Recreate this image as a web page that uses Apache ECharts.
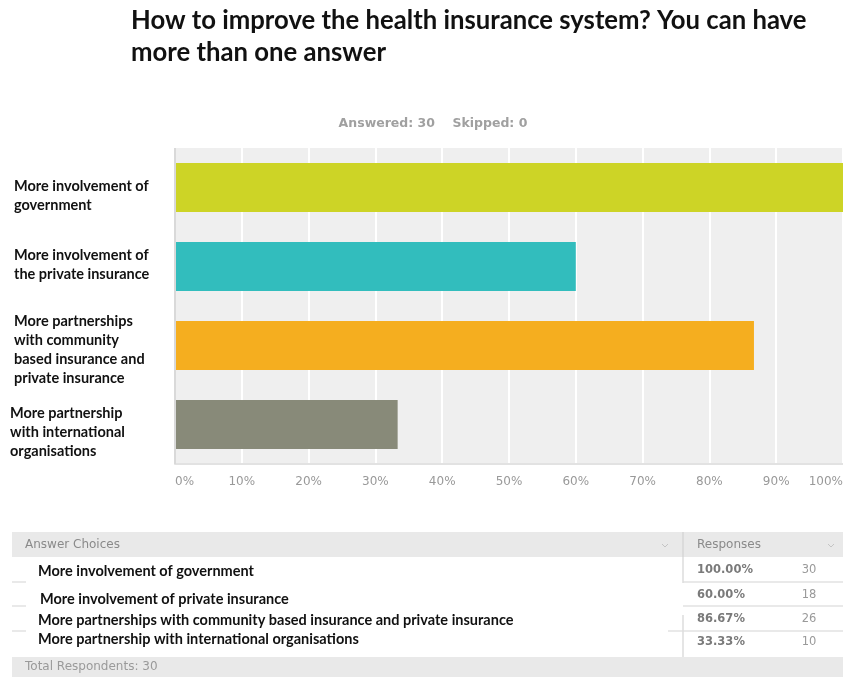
<!DOCTYPE html>
<html>
<head>
<meta charset="utf-8">
<script src="https://cdn.jsdelivr.net/npm/echarts@6/dist/echarts.min.js"></script>
<style>
  html, body { margin: 0; padding: 0; background: #fff; }
  #chart { width: 843px; height: 677px; }
</style>
</head>
<body>
<div id="chart"></div>
<script>
// Survey question and answer options
const questionTitle = 'How to improve the health insurance system? You can have\nmore than one answer';
const answeredCount = 30;
const skippedCount = 0;

const axisCategories = [
  'More involvement of\ngovernment',
  'More involvement of\nthe private insurance',
  'More partnerships\nwith community\nbased insurance and\nprivate insurance',
  'More partnership\nwith international\norganisations'
];
const tableChoices = [
  'More involvement of government',
  'More involvement of private insurance',
  'More partnerships with community based insurance and private insurance',
  'More partnership with international organisations'
];
const responsePercent = [100.00, 60.00, 86.67, 33.33];
const responseCount = [30, 18, 26, 10];
const barColors = ['#cdd426', '#32bdbd', '#f5ae1f', '#888a79'];

// per-category label nudges (vertical shift in px, indented or not)
const labelShiftY = [8, -2, 4, 8];
const labelIndented = [true, true, true, false];

const chart = echarts.init(document.getElementById('chart'), null, { renderer: 'canvas' });

// ---- summary table drawn under the bar chart ----
const tbl = { left: 12, right: 843, divider: 683, headTop: 532, headBottom: 557, footTop: 657, footBottom: 677 };
const rowCenters = [570, 595, 619, 642];
const choiceCenters = [571, 599, 620, 639];
const rowTextX = [38, 40, 38, 38];
const rowLines = [582, 606, 631];
const greyText = '#8a8a8a';
const uiFont = '"DejaVu Sans", Verdana, sans-serif';
const labelFont = 'Lato, "Open Sans", sans-serif';

const graphics = [];
// header band
graphics.push({ type: 'rect', shape: { x: tbl.left, y: tbl.headTop, width: tbl.right - tbl.left, height: tbl.headBottom - tbl.headTop }, style: { fill: '#e9e9e9' } });
graphics.push({ type: 'line', shape: { x1: tbl.divider, y1: tbl.headTop, x2: tbl.divider, y2: tbl.headBottom }, style: { stroke: '#d6d6d6', lineWidth: 1.5 } });
graphics.push({ type: 'text', x: 25, y: 545, style: { text: 'Answer Choices', fill: greyText, font: '12px ' + uiFont, verticalAlign: 'middle' } });
graphics.push({ type: 'text', x: 697, y: 545, style: { text: 'Responses', fill: greyText, font: '12px ' + uiFont, verticalAlign: 'middle' } });
[665, 831].forEach(function (ax) {
  graphics.push({ type: 'polyline', shape: { points: [[ax - 3, 544], [ax, 547], [ax + 3, 544]] }, style: { stroke: '#c4c4c4', lineWidth: 1, fill: null } });
});
// footer band
graphics.push({ type: 'rect', shape: { x: tbl.left, y: tbl.footTop, width: tbl.right - tbl.left, height: tbl.footBottom - tbl.footTop }, style: { fill: '#e9e9e9' } });
graphics.push({ type: 'text', x: 25, y: 667, style: { text: 'Total Respondents: ' + answeredCount, fill: '#9a9a9a', font: '12px ' + uiFont, verticalAlign: 'middle' } });
// row separators
rowLines.forEach(function (ly, i) {
  graphics.push({ type: 'line', shape: { x1: tbl.left, y1: ly, x2: 26, y2: ly }, style: { stroke: '#e2e2e2', lineWidth: 1.5 } });
  const startX = i === 2 ? 668 : tbl.divider;
  graphics.push({ type: 'line', shape: { x1: startX, y1: ly, x2: tbl.right, y2: ly }, style: { stroke: '#e2e2e2', lineWidth: 1.5 } });
});
graphics.push({ type: 'line', shape: { x1: tbl.divider, y1: tbl.headBottom, x2: tbl.divider, y2: 583 }, style: { stroke: '#dcdcdc', lineWidth: 1.5 } });
graphics.push({ type: 'line', shape: { x1: tbl.divider, y1: 615, x2: tbl.divider, y2: tbl.footTop }, style: { stroke: '#dcdcdc', lineWidth: 1.5 } });
// row contents
tableChoices.forEach(function (name, i) {
  graphics.push({ type: 'text', x: rowTextX[i], y: choiceCenters[i], style: { text: name, fill: '#111', font: 'bold 14.5px ' + labelFont, verticalAlign: 'middle' } });
  graphics.push({ type: 'text', x: 697, y: rowCenters[i], style: { text: responsePercent[i].toFixed(2) + '%', fill: '#7a7a7a', font: 'bold 11.5px ' + uiFont, verticalAlign: 'middle' } });
  graphics.push({ type: 'text', x: 809, y: rowCenters[i], style: { text: String(responseCount[i]), fill: '#9a9a9a', font: '11.5px ' + uiFont, verticalAlign: 'middle', align: 'center' } });
});
// left shadow edge of the plot area
graphics.push({ type: 'line', shape: { x1: 175, y1: 148, x2: 175, y2: 464 }, style: { stroke: '#d9d9d9', lineWidth: 2 }, z: 10 });

// rich-text styles for the category labels; spacer lines move a label up or down
const labelRich = {
  t: { color: '#111', fontFamily: labelFont, fontWeight: 'bold', fontSize: 14.5, lineHeight: 19, padding: [0, 0, 0, 4] },
  u: { color: '#111', fontFamily: labelFont, fontWeight: 'bold', fontSize: 14.5, lineHeight: 19, padding: [0, 0, 0, 0] }
};
labelShiftY.forEach(function (s) {
  const h = Math.abs(s) * 2;
  labelRich['s' + h] = { fontSize: 1, lineHeight: h, height: h };
});

function categoryLabel(value, index) {
  const key = labelIndented[index] ? 't' : 'u';
  let text = value.split('\n').map(function (line) { return '{' + key + '|' + line + '}'; }).join('\n');
  const s = labelShiftY[index];
  const h = Math.abs(s) * 2;
  if (s > 0) text = '{s' + h + '| }\n' + text;
  if (s < 0) text = text + '\n{s' + h + '| }';
  return text;
}

const option = {
  backgroundColor: '#ffffff',
  animation: false,
  title: [
    {
      text: questionTitle,
      left: 126,
      top: 0,
      textStyle: { fontFamily: labelFont, fontWeight: 'bold', fontSize: 25.7, lineHeight: 32, color: '#111' }
    },
    {
      text: 'Answered: ' + answeredCount + '    Skipped: ' + skippedCount,
      left: 428,
      top: 112,
      textAlign: 'center',
      textStyle: { fontFamily: uiFont, fontWeight: 'bold', fontSize: 12.5, color: '#a0a0a0' }
    }
  ],
  grid: {
    left: 175, top: 148, width: 668, height: 316,
    outerBoundsMode: 'none',
    show: true, backgroundColor: '#efefef', borderWidth: 0
  },
  xAxis: {
    type: 'value',
    min: 0, max: 100, interval: 10,
    axisLine: { show: true, lineStyle: { color: '#e2e2e2', width: 2 } },
    axisTick: { show: false },
    splitLine: { show: true, lineStyle: { color: '#ffffff', width: 2 } },
    axisLabel: {
      margin: 12,
      color: '#999999',
      fontFamily: uiFont,
      fontSize: 12,
      alignMinLabel: 'left',
      alignMaxLabel: 'right',
      formatter: '{value}%'
    }
  },
  yAxis: {
    type: 'category',
    inverse: true,
    data: axisCategories,
    axisLine: { show: false },
    axisTick: { show: false },
    splitLine: { show: false },
    axisLabel: {
      align: 'left',
      margin: 165,
      formatter: categoryLabel,
      rich: labelRich
    }
  },
  series: [{
    type: 'bar',
    barCategoryGap: '38%',
    data: responsePercent.map(function (v, i) {
      return { value: v, itemStyle: { color: barColors[i] } };
    })
  }],
  graphic: graphics
};

chart.setOption(option);
</script>
</body>
</html>
